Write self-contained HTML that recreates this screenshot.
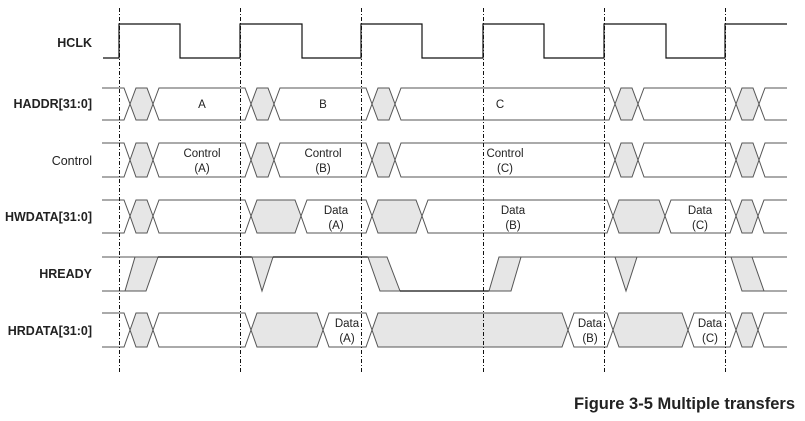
<!DOCTYPE html>
<html><head><meta charset="utf-8"><style>
html,body{margin:0;padding:0;background:#fff;}
svg{display:block;}
text{font-family:"Liberation Sans",Arial,sans-serif;font-size:11.5px;fill:#222;}
.b{font-weight:bold;}
.lab{font-size:12.5px;}
.g{fill:#e6e6e6;stroke:#555;stroke-width:1;}
.w{fill:#fff;stroke:#555;stroke-width:1;}
.l{fill:none;stroke:#555;stroke-width:1;}
.k{fill:none;stroke:#111;stroke-width:1.2;}
.d{stroke:#111;stroke-width:1;stroke-dasharray:4,2,1,2;}
</style></head><body>
<svg width="805" height="421" viewBox="0 0 805 421" xmlns="http://www.w3.org/2000/svg">
<g text-anchor="end" class="lab">
<text class="b lab" x="92" y="47">HCLK</text>
<text class="b lab" x="92" y="108">HADDR[31:0]</text>
<text class="lab" x="92" y="165">Control</text>
<text class="b lab" x="92" y="221">HWDATA[31:0]</text>
<text class="b lab" x="92" y="278">HREADY</text>
<text class="b lab" x="92" y="335">HRDATA[31:0]</text>
</g>
<polyline class="k" points="103,58 119,58 119,24 180,24 180,58 240,58 240,24 302,24 302,58 361,58 361,24 422,24 422,58 483,58 483,24 544,24 544,58 604,58 604,24 666,24 666,58 725,58 725,24 787,24"/>
<g>
<polyline class="l" points="102,88 124,88 130,104 124,120 102,120"/>
<polygon class="g" points="130,104 136,88 147,88 153,104 147,120 136,120"/>
<polygon class="w" points="153,104 159,88 245,88 251,104 245,120 159,120"/>
<polygon class="g" points="251,104 257,88 268,88 274,104 268,120 257,120"/>
<polygon class="w" points="274,104 280,88 366,88 372,104 366,120 280,120"/>
<polygon class="g" points="372,104 378,88 389,88 395,104 389,120 378,120"/>
<polygon class="w" points="395,104 401,88 609,88 615,104 609,120 401,120"/>
<polygon class="g" points="615,104 621,88 632,88 638,104 632,120 621,120"/>
<polygon class="w" points="638,104 644,88 730,88 736,104 730,120 644,120"/>
<polygon class="g" points="736,104 742,88 753,88 759,104 753,120 742,120"/>
<polyline class="l" points="787,88 765,88 759,104 765,120 787,120"/>
</g>
<g>
<polyline class="l" points="102,143 124,143 130,160 124,177 102,177"/>
<polygon class="g" points="130,160 136,143 147,143 153,160 147,177 136,177"/>
<polygon class="w" points="153,160 159,143 245,143 251,160 245,177 159,177"/>
<polygon class="g" points="251,160 257,143 268,143 274,160 268,177 257,177"/>
<polygon class="w" points="274,160 280,143 366,143 372,160 366,177 280,177"/>
<polygon class="g" points="372,160 378,143 389,143 395,160 389,177 378,177"/>
<polygon class="w" points="395,160 401,143 609,143 615,160 609,177 401,177"/>
<polygon class="g" points="615,160 621,143 632,143 638,160 632,177 621,177"/>
<polygon class="w" points="638,160 644,143 730,143 736,160 730,177 644,177"/>
<polygon class="g" points="736,160 742,143 753,143 759,160 753,177 742,177"/>
<polyline class="l" points="787,143 765,143 759,160 765,177 787,177"/>
</g>
<g>
<polyline class="l" points="102,200 124,200 130,216 124,233 102,233"/>
<polygon class="g" points="130,216 136,200 147,200 153,216 147,233 136,233"/>
<polygon class="w" points="153,216 159,200 245,200 251,216 245,233 159,233"/>
<polygon class="g" points="251,216 257,200 295,200 301,216 295,233 257,233"/>
<polygon class="w" points="301,216 307,200 366,200 372,216 366,233 307,233"/>
<polygon class="g" points="372,216 378,200 416,200 422,216 416,233 378,233"/>
<polygon class="w" points="422,216 428,200 607,200 613,216 607,233 428,233"/>
<polygon class="g" points="613,216 619,200 659,200 665,216 659,233 619,233"/>
<polygon class="w" points="665,216 671,200 730,200 736,216 730,233 671,233"/>
<polygon class="g" points="736,216 742,200 752,200 758,216 752,233 742,233"/>
<polyline class="l" points="787,200 764,200 758,216 764,233 787,233"/>
</g>
<g>
<line class="l" x1="102" y1="257" x2="135" y2="257"/>
<line class="l" x1="102" y1="291" x2="125" y2="291"/>
<polygon class="g" points="125,291 146,291 158,257 135,257"/>
<line class="k" x1="158" y1="257" x2="252" y2="257"/>
<polygon class="g" points="252,257 273,257 262,291"/>
<line class="k" x1="273" y1="257" x2="368" y2="257"/>
<polygon class="g" points="368,257 387,257 400,291 380,291"/>
<line class="k" x1="400" y1="291" x2="489" y2="291"/>
<polygon class="g" points="489,291 511,291 521,257 499,257"/>
<line class="l" x1="521" y1="257" x2="615" y2="257"/>
<polygon class="g" points="615,257 637,257 626,291"/>
<line class="l" x1="637" y1="257" x2="731" y2="257"/>
<polygon class="g" points="731,257 752,257 764,291 742,291"/>
<line class="l" x1="752" y1="257" x2="787" y2="257"/>
<line class="l" x1="764" y1="291" x2="787" y2="291"/>
</g>
<g>
<polyline class="l" points="102,313 124,313 130,330 124,347 102,347"/>
<polygon class="g" points="130,330 136,313 147,313 153,330 147,347 136,347"/>
<polygon class="w" points="153,330 159,313 245,313 251,330 245,347 159,347"/>
<polygon class="g" points="251,330 257,313 317,313 323,330 317,347 257,347"/>
<polygon class="w" points="323,330 329,313 366,313 372,330 366,347 329,347"/>
<polygon class="g" points="372,330 378,313 562,313 568,330 562,347 378,347"/>
<polygon class="w" points="568,330 574,313 607,313 613,330 607,347 574,347"/>
<polygon class="g" points="613,330 619,313 682,313 688,330 682,347 619,347"/>
<polygon class="w" points="688,330 694,313 730,313 736,330 730,347 694,347"/>
<polygon class="g" points="736,330 742,313 752,313 758,330 752,347 742,347"/>
<polyline class="l" points="787,313 764,313 758,330 764,347 787,347"/>
</g>
<g class="d">
<line x1="119.5" y1="8" x2="119.5" y2="372"/>
<line x1="240.5" y1="8" x2="240.5" y2="372"/>
<line x1="361.5" y1="8" x2="361.5" y2="372"/>
<line x1="483.5" y1="8" x2="483.5" y2="372"/>
<line x1="604.5" y1="8" x2="604.5" y2="372"/>
<line x1="725.5" y1="8" x2="725.5" y2="372"/>
</g>
<g text-anchor="middle">
<text x="202" y="108">A</text>
<text x="323" y="108">B</text>
<text x="500" y="108">C</text>
<text x="202" y="157">Control</text><text x="202" y="172">(A)</text>
<text x="323" y="157">Control</text><text x="323" y="172">(B)</text>
<text x="505" y="157">Control</text><text x="505" y="172">(C)</text>
<text x="336" y="214">Data</text><text x="336" y="229">(A)</text>
<text x="513" y="214">Data</text><text x="513" y="229">(B)</text>
<text x="700" y="214">Data</text><text x="700" y="229">(C)</text>
<text x="347" y="327">Data</text><text x="347" y="342">(A)</text>
<text x="590" y="327">Data</text><text x="590" y="342">(B)</text>
<text x="710" y="327">Data</text><text x="710" y="342">(C)</text>
</g>
<text class="b" x="795" y="409" text-anchor="end" style="font-size:16.5px">Figure 3-5 Multiple transfers</text>
</svg>
</body></html>
